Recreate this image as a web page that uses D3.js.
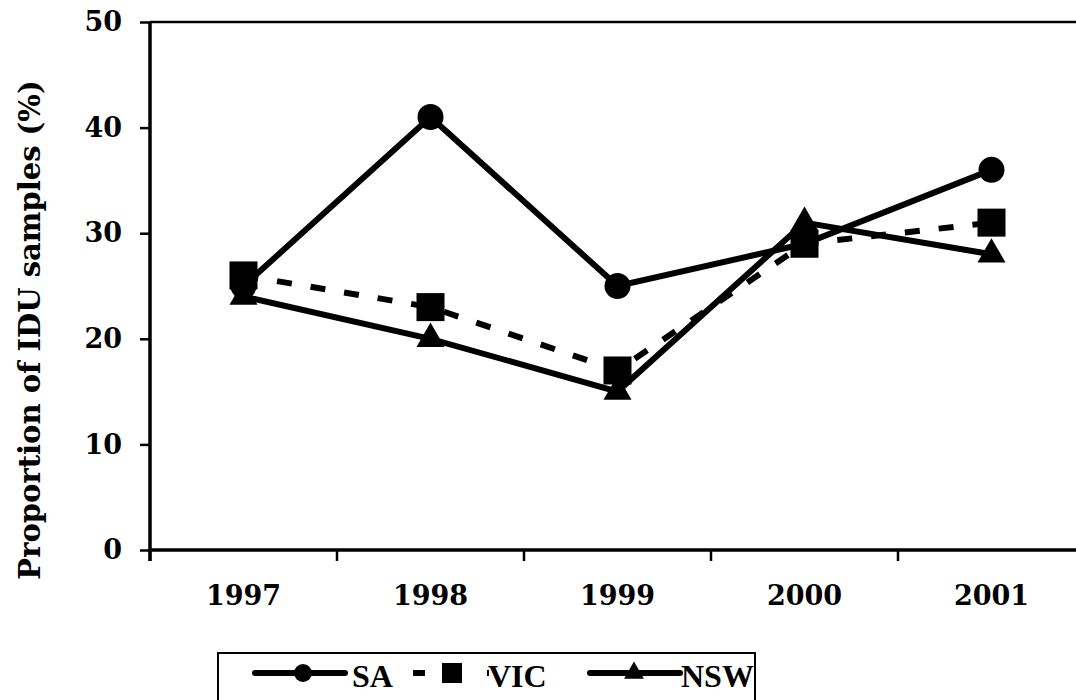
<!DOCTYPE html>
<html lang="en">
  <head>
    <meta charset="utf-8" />
    <script src="https://d3js.org/d3.v7.min.js"></script>
    <style>
      body {
        margin: 0;
        background: #fff;
      }
      .tick text {
        font-family: "DejaVu Serif", Georgia, serif;
        font-weight: bold;
      }
    </style>
  </head>
  <body>
    <svg width="1076" height="700"></svg>
    <script>
      var years = ["1997", "1998", "1999", "2000", "2001"];
      var seriesNames = ["SA", "VIC", "NSW"];
      var saValues = [25, 41, 25, 29, 36];
      var vicValues = [26, 23, 17, 29, 31];
      var nswValues = [24, 20, 15, 31, 28];
      var yTicks = [0, 10, 20, 30, 40, 50];

      var svg = d3.select("svg");
      var margin = { top: 22, left: 150 };
      var width = 1085 - margin.left;
      var height = 550 - margin.top;

      var x = d3.scaleBand().domain(years).range([0, width]);
      var y = d3.scaleLinear().domain([0, 50]).range([height, 0]);

      var g = svg
        .append("g")
        .attr("transform", "translate(" + margin.left + "," + margin.top + ")");

      // top border of the plot area
      g.append("line")
        .attr("x1", 0)
        .attr("x2", width)
        .attr("y1", 0)
        .attr("y2", 0)
        .attr("stroke", "#000")
        .attr("stroke-width", 2.5);

      var yAxis = g
        .append("g")
        .call(d3.axisLeft(y).tickValues(yTicks).tickSize(10).tickPadding(18));
      yAxis.selectAll("text").style("font-size", "27px");

      var xAxis = g
        .append("g")
        .attr("transform", "translate(0," + height + ")")
        .call(d3.axisBottom(x).tickSize(0).tickPadding(36));
      xAxis.selectAll("text").style("font-size", "27px");
      // ticks between categories
      xAxis
        .selectAll(".sep")
        .data(d3.range(years.length + 1))
        .enter()
        .append("line")
        .attr("x1", (i) => x.step() * i)
        .attr("x2", (i) => x.step() * i)
        .attr("y1", 0)
        .attr("y2", 11)
        .attr("stroke", "#000")
        .attr("stroke-width", 2.5);

      svg.selectAll(".domain").attr("stroke-width", 3.5);
      yAxis.selectAll(".tick line").attr("stroke-width", 2.5);
      xAxis.select(".domain").attr("d", "M0,0H" + width);
      yAxis.select(".domain").attr("d", "M0,0V" + (height + 11));

      svg
        .append("text")
        .attr("transform", "translate(40,330) rotate(-90)")
        .attr("text-anchor", "middle")
        .attr("font-family", "DejaVu Serif, Georgia, serif")
        .attr("font-weight", "bold")
        .attr("font-size", "29px")
        .text("Proportion of IDU samples (%)");

      var cx = (i) => x(years[i]) + x.bandwidth() / 2;
      var line = d3
        .line()
        .x((d, i) => cx(i))
        .y((d) => y(d));

      var tri = d3.symbol().type(d3.symbolTriangle).size(340);

      function drawMarker(sel, shape) {
        if (shape === "circle") {
          sel.append("circle").attr("r", 13).attr("fill", "#000");
        } else if (shape === "square") {
          sel
            .append("rect")
            .attr("x", -14)
            .attr("y", -14)
            .attr("width", 28)
            .attr("height", 28)
            .attr("fill", "#000");
        } else {
          sel.append("path").attr("d", tri).attr("fill", "#000");
        }
      }

      var series = [
        { name: seriesNames[0], values: saValues, shape: "circle", dash: null },
        { name: seriesNames[1], values: vicValues, shape: "square", dash: "15,19" },
        { name: seriesNames[2], values: nswValues, shape: "triangle", dash: null },
      ];

      series.forEach(function (s) {
        g.append("path")
          .datum(s.values)
          .attr("d", line)
          .attr("fill", "none")
          .attr("stroke", "#000")
          .attr("stroke-width", 6)
          .attr("stroke-dasharray", s.dash);
      });
      series.forEach(function (s) {
        s.values.forEach(function (v, i) {
          var m = g
            .append("g")
            .attr("transform", "translate(" + cx(i) + "," + y(v) + ")");
          drawMarker(m, s.shape);
        });
      });

      // legend
      var legend = svg.append("g").attr("transform", "translate(218,653)");
      legend
        .append("rect")
        .attr("width", 537)
        .attr("height", 70)
        .attr("fill", "#fff")
        .attr("stroke", "#000")
        .attr("stroke-width", 2);

      // per item: line start, line end, marker centre, text x (relative to box)
      var legendLayout = [
        { x1: 37, x2: 127, m: 85, t: 134 },
        { x1: 195, x2: 271, m: 234, t: 270 },
        { x1: 372, x2: 462, m: 416, t: 463 },
      ];
      series.forEach(function (s, i) {
        var L = legendLayout[i];
        var lg = legend.append("g").attr("transform", "translate(0,20)");
        lg.append("line")
          .attr("x1", L.x1)
          .attr("x2", L.x2)
          .attr("stroke", "#000")
          .attr("stroke-width", 6)
          .attr("stroke-linecap", s.dash ? "butt" : "round")
          .attr("stroke-dasharray", s.dash ? "12,17,20,25,2,100" : null);
        var mk = lg.append("g").attr("transform", "translate(" + L.m + ",0)");
        if (s.shape === "circle") {
          mk.append("circle").attr("r", 9).attr("fill", "#000");
        } else if (s.shape === "square") {
          mk.append("rect")
            .attr("x", -10)
            .attr("y", -10)
            .attr("width", 20)
            .attr("height", 20)
            .attr("fill", "#000");
        } else {
          mk.append("path")
            .attr("d", d3.symbol().type(d3.symbolTriangle).size(170))
            .attr("fill", "#000");
        }
        lg.append("text")
          .attr("x", L.t)
          .attr("y", 14)
          .attr("font-family", "Liberation Serif, Times New Roman, serif")
          .attr("font-weight", "bold")
          .attr("font-size", "32px")
          .text(s.name);
      });
    </script>
  </body>
</html>
